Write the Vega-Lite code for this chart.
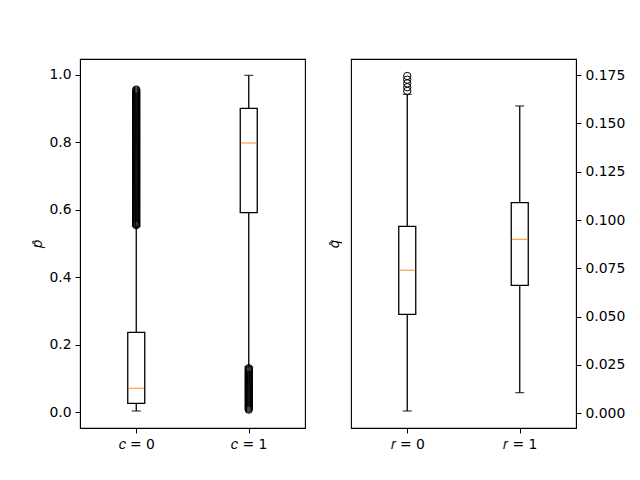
{
  "$schema": "https://vega.github.io/schema/vega-lite/v6.json",
  "background": "white",
  "padding": {"left": 30, "top": 58, "right": 5, "bottom": 5},
  "spacing": 46,
  "bounds": "flush",
  "config": {
    "view": {"stroke": "black", "strokeWidth": 1.1},
    "axis": {
      "grid": false,
      "labelFont": "DejaVu Sans",
      "labelFontSize": 13.9,
      "labelColor": "black",
      "titleFont": "DejaVu Sans",
      "titleFontSize": 14,
      "titleFontWeight": "normal",
      "titleColor": "black",
      "tickColor": "black",
      "domainColor": "black",
      "tickSize": 5,
      "labelPadding": 4
    }
  },
  "hconcat": [
    {
      "width": 225,
      "height": 369,
      "data": {"values": [
        {"g": "𝑐 = 0", "lo": 0.003, "q1": 0.0258, "med": 0.0703, "q3": 0.2363, "hi": 0.551},
        {"g": "𝑐 = 1", "lo": 0.134, "q1": 0.591, "med": 0.7975, "q3": 0.900, "hi": 0.998}
      ]},
      "encoding": {
        "x": {"field": "g", "type": "nominal", "scale": {"type": "point", "padding": 0.5},
              "axis": {"title": null, "labelAngle": 0}}
      },
      "layer": [
        {
          "mark": {"type": "rule", "color": "black", "strokeWidth": 1.3},
          "encoding": {
            "y": {"field": "lo", "type": "quantitative",
                  "scale": {"domain": [-0.0474, 1.0466], "nice": false, "zero": false},
                  "axis": {"values": [0, 0.2, 0.4, 0.6, 0.8, 1.0], "format": ".1f", "title": "𝑝̂"}},
            "y2": {"field": "hi"}
          }
        },
        {
          "mark": {"type": "tick", "color": "black", "size": 9, "thickness": 1.3},
          "encoding": {"y": {"field": "lo", "type": "quantitative"}}
        },
        {
          "mark": {"type": "tick", "color": "black", "size": 9, "thickness": 1.3},
          "encoding": {"y": {"field": "hi", "type": "quantitative"}}
        },
        {
          "mark": {"type": "bar", "width": 17, "fill": "white", "stroke": "black", "strokeWidth": 1.3},
          "encoding": {"y": {"field": "q1", "type": "quantitative"}, "y2": {"field": "q3"}}
        },
        {
          "mark": {"type": "tick", "color": "#ff7f0e", "size": 16, "thickness": 1.3},
          "encoding": {"y": {"field": "med", "type": "quantitative"}}
        },
        {
          "data": {"values": [
            {"g":"𝑐 = 0","v":0.554},{"g":"𝑐 = 0","v":0.557},{"g":"𝑐 = 0","v":0.560},{"g":"𝑐 = 0","v":0.563},{"g":"𝑐 = 0","v":0.566},{"g":"𝑐 = 0","v":0.569},{"g":"𝑐 = 0","v":0.572},{"g":"𝑐 = 0","v":0.575},{"g":"𝑐 = 0","v":0.578},{"g":"𝑐 = 0","v":0.581},
            {"g":"𝑐 = 0","v":0.584},{"g":"𝑐 = 0","v":0.587},{"g":"𝑐 = 0","v":0.590},{"g":"𝑐 = 0","v":0.593},{"g":"𝑐 = 0","v":0.596},{"g":"𝑐 = 0","v":0.599},{"g":"𝑐 = 0","v":0.602},{"g":"𝑐 = 0","v":0.605},{"g":"𝑐 = 0","v":0.608},{"g":"𝑐 = 0","v":0.611},
            {"g":"𝑐 = 0","v":0.614},{"g":"𝑐 = 0","v":0.617},{"g":"𝑐 = 0","v":0.620},{"g":"𝑐 = 0","v":0.623},{"g":"𝑐 = 0","v":0.626},{"g":"𝑐 = 0","v":0.629},{"g":"𝑐 = 0","v":0.632},{"g":"𝑐 = 0","v":0.635},{"g":"𝑐 = 0","v":0.638},{"g":"𝑐 = 0","v":0.641},
            {"g":"𝑐 = 0","v":0.644},{"g":"𝑐 = 0","v":0.647},{"g":"𝑐 = 0","v":0.650},{"g":"𝑐 = 0","v":0.653},{"g":"𝑐 = 0","v":0.656},{"g":"𝑐 = 0","v":0.659},{"g":"𝑐 = 0","v":0.662},{"g":"𝑐 = 0","v":0.665},{"g":"𝑐 = 0","v":0.668},{"g":"𝑐 = 0","v":0.671},
            {"g":"𝑐 = 0","v":0.674},{"g":"𝑐 = 0","v":0.677},{"g":"𝑐 = 0","v":0.680},{"g":"𝑐 = 0","v":0.683},{"g":"𝑐 = 0","v":0.686},{"g":"𝑐 = 0","v":0.689},{"g":"𝑐 = 0","v":0.692},{"g":"𝑐 = 0","v":0.695},{"g":"𝑐 = 0","v":0.698},{"g":"𝑐 = 0","v":0.701},
            {"g":"𝑐 = 0","v":0.704},{"g":"𝑐 = 0","v":0.707},{"g":"𝑐 = 0","v":0.710},{"g":"𝑐 = 0","v":0.713},{"g":"𝑐 = 0","v":0.716},{"g":"𝑐 = 0","v":0.719},{"g":"𝑐 = 0","v":0.722},{"g":"𝑐 = 0","v":0.725},{"g":"𝑐 = 0","v":0.728},{"g":"𝑐 = 0","v":0.731},
            {"g":"𝑐 = 0","v":0.734},{"g":"𝑐 = 0","v":0.737},{"g":"𝑐 = 0","v":0.740},{"g":"𝑐 = 0","v":0.743},{"g":"𝑐 = 0","v":0.746},{"g":"𝑐 = 0","v":0.749},{"g":"𝑐 = 0","v":0.752},{"g":"𝑐 = 0","v":0.755},{"g":"𝑐 = 0","v":0.758},{"g":"𝑐 = 0","v":0.761},
            {"g":"𝑐 = 0","v":0.764},{"g":"𝑐 = 0","v":0.767},{"g":"𝑐 = 0","v":0.770},{"g":"𝑐 = 0","v":0.773},{"g":"𝑐 = 0","v":0.776},{"g":"𝑐 = 0","v":0.779},{"g":"𝑐 = 0","v":0.782},{"g":"𝑐 = 0","v":0.785},{"g":"𝑐 = 0","v":0.788},{"g":"𝑐 = 0","v":0.791},
            {"g":"𝑐 = 0","v":0.794},{"g":"𝑐 = 0","v":0.797},{"g":"𝑐 = 0","v":0.800},{"g":"𝑐 = 0","v":0.803},{"g":"𝑐 = 0","v":0.806},{"g":"𝑐 = 0","v":0.809},{"g":"𝑐 = 0","v":0.812},{"g":"𝑐 = 0","v":0.815},{"g":"𝑐 = 0","v":0.818},{"g":"𝑐 = 0","v":0.821},
            {"g":"𝑐 = 0","v":0.824},{"g":"𝑐 = 0","v":0.827},{"g":"𝑐 = 0","v":0.830},{"g":"𝑐 = 0","v":0.833},{"g":"𝑐 = 0","v":0.836},{"g":"𝑐 = 0","v":0.839},{"g":"𝑐 = 0","v":0.842},{"g":"𝑐 = 0","v":0.845},{"g":"𝑐 = 0","v":0.848},{"g":"𝑐 = 0","v":0.851},
            {"g":"𝑐 = 0","v":0.854},{"g":"𝑐 = 0","v":0.857},{"g":"𝑐 = 0","v":0.860},{"g":"𝑐 = 0","v":0.863},{"g":"𝑐 = 0","v":0.866},{"g":"𝑐 = 0","v":0.869},{"g":"𝑐 = 0","v":0.872},{"g":"𝑐 = 0","v":0.875},{"g":"𝑐 = 0","v":0.878},{"g":"𝑐 = 0","v":0.881},
            {"g":"𝑐 = 0","v":0.884},{"g":"𝑐 = 0","v":0.887},{"g":"𝑐 = 0","v":0.890},{"g":"𝑐 = 0","v":0.893},{"g":"𝑐 = 0","v":0.896},{"g":"𝑐 = 0","v":0.899},{"g":"𝑐 = 0","v":0.902},{"g":"𝑐 = 0","v":0.905},{"g":"𝑐 = 0","v":0.908},{"g":"𝑐 = 0","v":0.911},
            {"g":"𝑐 = 0","v":0.914},{"g":"𝑐 = 0","v":0.917},{"g":"𝑐 = 0","v":0.920},{"g":"𝑐 = 0","v":0.923},{"g":"𝑐 = 0","v":0.926},{"g":"𝑐 = 0","v":0.929},{"g":"𝑐 = 0","v":0.932},{"g":"𝑐 = 0","v":0.935},{"g":"𝑐 = 0","v":0.938},{"g":"𝑐 = 0","v":0.941},
            {"g":"𝑐 = 0","v":0.944},{"g":"𝑐 = 0","v":0.947},{"g":"𝑐 = 0","v":0.950},{"g":"𝑐 = 0","v":0.953},{"g":"𝑐 = 0","v":0.956},
            {"g":"𝑐 = 1","v":0.007},{"g":"𝑐 = 1","v":0.010},{"g":"𝑐 = 1","v":0.013},{"g":"𝑐 = 1","v":0.016},{"g":"𝑐 = 1","v":0.019},{"g":"𝑐 = 1","v":0.022},{"g":"𝑐 = 1","v":0.025},{"g":"𝑐 = 1","v":0.028},{"g":"𝑐 = 1","v":0.031},{"g":"𝑐 = 1","v":0.034},
            {"g":"𝑐 = 1","v":0.037},{"g":"𝑐 = 1","v":0.040},{"g":"𝑐 = 1","v":0.043},{"g":"𝑐 = 1","v":0.046},{"g":"𝑐 = 1","v":0.049},{"g":"𝑐 = 1","v":0.052},{"g":"𝑐 = 1","v":0.055},{"g":"𝑐 = 1","v":0.058},{"g":"𝑐 = 1","v":0.061},{"g":"𝑐 = 1","v":0.064},
            {"g":"𝑐 = 1","v":0.067},{"g":"𝑐 = 1","v":0.070},{"g":"𝑐 = 1","v":0.073},{"g":"𝑐 = 1","v":0.076},{"g":"𝑐 = 1","v":0.079},{"g":"𝑐 = 1","v":0.082},{"g":"𝑐 = 1","v":0.085},{"g":"𝑐 = 1","v":0.088},{"g":"𝑐 = 1","v":0.091},{"g":"𝑐 = 1","v":0.094},
            {"g":"𝑐 = 1","v":0.097},{"g":"𝑐 = 1","v":0.100},{"g":"𝑐 = 1","v":0.103},{"g":"𝑐 = 1","v":0.106},{"g":"𝑐 = 1","v":0.109},{"g":"𝑐 = 1","v":0.112},{"g":"𝑐 = 1","v":0.115},{"g":"𝑐 = 1","v":0.118},{"g":"𝑐 = 1","v":0.121},{"g":"𝑐 = 1","v":0.124},
            {"g":"𝑐 = 1","v":0.127},{"g":"𝑐 = 1","v":0.130}
          ]},
          "mark": {"type": "point", "shape": "circle", "filled": false, "color": "black", "size": 54, "strokeWidth": 1, "opacity": 1},
          "encoding": {"y": {"field": "v", "type": "quantitative"}}
        }
      ]
    },
    {
      "width": 225,
      "height": 369,
      "data": {"values": [
        {"g": "𝑟 = 0", "lo": 0.0012, "q1": 0.0512, "med": 0.0740, "q3": 0.0967, "hi": 0.165},
        {"g": "𝑟 = 1", "lo": 0.0107, "q1": 0.0662, "med": 0.0900, "q3": 0.1090, "hi": 0.159}
      ]},
      "encoding": {
        "x": {"field": "g", "type": "nominal", "scale": {"type": "point", "padding": 0.5},
              "axis": {"title": null, "labelAngle": 0}}
      },
      "resolve": {"axis": {"y": "independent"}},
      "layer": [
        {
          "mark": {"type": "rule", "color": "black", "strokeWidth": 1.3},
          "encoding": {
            "y": {"field": "lo", "type": "quantitative",
                  "scale": {"domain": [-0.0076, 0.1833], "nice": false, "zero": false},
                  "axis": {"orient": "left", "labels": false, "ticks": false, "domain": false, "title": "𝑞̂", "titlePadding": 10}},
            "y2": {"field": "hi"}
          }
        },
        {
          "mark": {"type": "tick", "color": "black", "size": 9, "thickness": 1.3},
          "encoding": {"y": {"field": "lo", "type": "quantitative",
                  "axis": {"orient": "right", "values": [0, 0.025, 0.05, 0.075, 0.1, 0.125, 0.15, 0.175], "format": ".3f", "title": null}}}
        },
        {
          "mark": {"type": "tick", "color": "black", "size": 9, "thickness": 1.3},
          "encoding": {"y": {"field": "hi", "type": "quantitative", "axis": null}}
        },
        {
          "mark": {"type": "bar", "width": 17, "fill": "white", "stroke": "black", "strokeWidth": 1.3},
          "encoding": {"y": {"field": "q1", "type": "quantitative", "axis": null}, "y2": {"field": "q3"}}
        },
        {
          "mark": {"type": "tick", "color": "#ff7f0e", "size": 16, "thickness": 1.3},
          "encoding": {"y": {"field": "med", "type": "quantitative", "axis": null}}
        },
        {
          "data": {"values": [
            {"g":"𝑟 = 0","v":0.1668},{"g":"𝑟 = 0","v":0.1687},{"g":"𝑟 = 0","v":0.1707},{"g":"𝑟 = 0","v":0.1726},{"g":"𝑟 = 0","v":0.1745}
          ]},
          "mark": {"type": "point", "shape": "circle", "filled": false, "color": "black", "size": 54, "strokeWidth": 1, "opacity": 1},
          "encoding": {"y": {"field": "v", "type": "quantitative", "axis": null}}
        }
      ]
    }
  ]
}
